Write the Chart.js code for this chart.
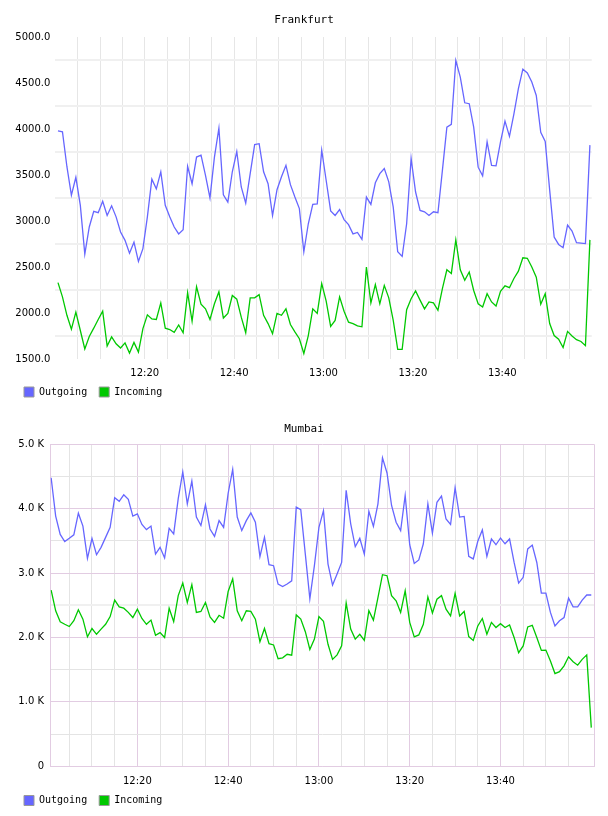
<!DOCTYPE html>
<html>
<head>
<meta charset="utf-8">
<title>Traffic</title>
<script src="https://cdn.jsdelivr.net/npm/chart.js@4.4.1/dist/chart.umd.min.js"></script>
<style>
  body { margin: 0; background: #fff; }
  canvas { position: absolute; left: 0; }
  #frankfurt { top: 0; }
  #mumbai { top: 408px; }
</style>
</head>
<body>
<canvas id="frankfurt" width="608" height="408"></canvas>
<canvas id="mumbai" width="608" height="408"></canvas>
<script>
// one sample per minute, minutes after 12:00
const frankfurtOut = [3980,3970,3590,3280,3475,3170,2640,2935,3105,3090,3215,3060,3165,3045,2880,2790,2650,2770,2560,2700,3045,3455,3350,3535,3170,3045,2935,2860,2905,3595,3405,3695,3715,3495,3250,3695,4010,3285,3205,3535,3755,3370,3195,3515,3830,3840,3535,3405,3060,3340,3480,3605,3395,3260,3135,2665,2970,3180,3185,3770,3440,
  3110,3060,3125,3015,2960,2860,2875,2800,3260,3180,3415,3515,3570,3425,3150,2665,2615,2970,3680,3315,3115,3100,3060,3100,3090,3550,4020,4050,4745,4565,4285,4275,4020,3585,3490,3860,3605,3600,3860,4085,3920,4165,4440,4650,4610,4510,4365,3965,3865,3335,2825,2745,2710,2955,2890,2765,2760,2755,3825];
const frankfurtIn = [2330,2175,1975,1825,2010,1810,1610,1745,1835,1930,2020,1640,1740,1665,1620,1675,1565,1680,1575,1830,1980,1935,1930,2110,1835,1820,1790,1870,1785,2220,1910,2285,2095,2045,1930,2100,2230,1945,1995,2190,2150,1955,1785,2165,2165,2200,1975,1885,1775,1995,1975,2045,1875,1795,1720,1560,1755,2045,1995,2320,2130,
  1855,1920,2175,2020,1900,1885,1860,1850,2500,2110,2310,2100,2300,2165,1920,1605,1605,2035,2155,2240,2140,2045,2120,2110,2030,2265,2470,2430,2795,2470,2355,2445,2245,2100,2065,2210,2120,2075,2235,2295,2275,2375,2455,2600,2595,2500,2390,2095,2210,1885,1755,1715,1625,1800,1750,1710,1690,1645,2795];
const mumbaiOut = [4480,3885,3600,3490,3540,3595,3930,3730,3230,3540,3285,3400,3555,3710,4170,4115,4215,4145,3885,3920,3755,3675,3730,3295,3400,3235,3695,3610,4155,4570,4075,4430,3870,3740,4060,3685,3570,3815,3710,4240,4610,3870,3660,3815,3935,3790,3255,3555,3130,3115,2830,2790,2830,2880,4025,3985,3295,2600,3115,3710,
  3970,3140,2815,2985,3165,4285,3765,3410,3540,3295,3960,3725,4075,4790,4555,4050,3790,3660,4205,3440,3150,3205,3455,4075,3620,4100,4195,3840,3755,4325,3870,3880,3260,3220,3495,3670,3260,3530,3440,3545,3455,3530,3165,2845,2935,3375,3435,3165,2690,2690,2390,2180,2260,2310,2610,2475,2475,2580,2660,2660];
const mumbaiIn = [2735,2415,2245,2205,2170,2260,2430,2285,2010,2140,2050,2130,2205,2325,2580,2475,2455,2390,2310,2440,2295,2205,2270,2035,2075,2000,2455,2245,2650,2845,2545,2820,2390,2405,2545,2320,2235,2345,2300,2715,2910,2415,2260,2415,2405,2285,1935,2140,1905,1885,1670,1685,1740,1725,2350,2285,2090,1815,1975,2325,
  2250,1895,1660,1730,1870,2535,2130,1975,2050,1955,2415,2270,2620,2975,2960,2650,2570,2390,2725,2235,2010,2040,2205,2630,2380,2595,2650,2440,2335,2685,2335,2405,2015,1955,2180,2295,2050,2235,2155,2215,2155,2195,2000,1765,1870,2165,2190,2000,1800,1805,1635,1440,1470,1560,1700,1625,1570,1660,1730,600];

const timeTickMinutes = [20, 40, 60, 80, 100];
const timeTickLabels = ['12:20', '12:40', '13:00', '13:20', '13:40'];
const seriesNames = ['Outgoing', 'Incoming'];
const seriesColors = ['#6666ff', '#00c800'];

const every = (from, to, step) => { const a = []; for (let v = from; v <= to + 1e-9; v += step) a.push(v); return a; };
const toPoints = (vals, start) => vals.map((v, i) => ({ x: start + i, y: v }));
const xLabel = v => { const k = timeTickMinutes.indexOf(v); return k < 0 ? '' : timeTickLabels[k]; };

// nudge the legend right and centre the title on the canvas, without moving the axes
const boxNudge = {
  id: 'boxNudge',
  afterLayout: c => {
    c.legend.left += 9; c.legend.right += 9;
    c.titleBlock.left = 0; c.titleBlock.right = c.width;
  }
};

function makeChart(id, cfg) {
  return new Chart(document.getElementById(id), {
    type: 'line',
    data: {
      datasets: [cfg.out, cfg.inc].map((vals, i) => ({
        label: seriesNames[i],
        data: toPoints(vals, cfg.start),
        borderColor: seriesColors[i],
        backgroundColor: seriesColors[i],
        borderWidth: 1.3,
        pointRadius: 0,
        tension: 0
      }))
    },
    plugins: [boxNudge],
    options: {
      responsive: false,
      animation: false,
      devicePixelRatio: 1,
      layout: { padding: cfg.padding },
      plugins: {
        title: {
          display: true, text: cfg.title, color: '#000',
          font: { family: 'DejaVu Sans Mono', size: 11, weight: 'normal' },
          padding: cfg.titlePad
        },
        legend: {
          position: 'bottom', align: 'start',
          labels: {
            boxWidth: 10, boxHeight: 10, padding: 6, color: '#000',
            font: { family: 'DejaVu Sans Mono', size: 10 },
            // trailing space widens the gap between the two entries
            generateLabels: chart => chart.data.datasets.map((d, i) => ({
              text: d.label + ' ', fillStyle: d.borderColor, strokeStyle: '#999',
              lineWidth: 1, hidden: false, datasetIndex: i, fontColor: '#000'
            }))
          }
        },
        tooltip: { enabled: false }
      },
      scales: {
        x: {
          type: 'linear', min: cfg.xMin, max: cfg.xMax,
          afterBuildTicks: s => { s.ticks = cfg.xTicks.map(v => ({ value: v })); },
          afterFit: s => { s.height = cfg.xHeight; },
          border: cfg.xBorder,
          grid: { drawTicks: false, color: cfg.xGridColor, lineWidth: 1 },
          ticks: {
            autoSkip: false, maxRotation: 0, padding: cfg.xPad, color: '#000',
            font: { family: 'DejaVu Sans', size: 10 },
            callback: v => xLabel(v)
          }
        },
        y: {
          min: cfg.yMin, max: cfg.yMax,
          afterBuildTicks: s => { s.ticks = cfg.yTicks.map(v => ({ value: v })); },
          afterFit: s => { s.width = cfg.yWidth; },
          border: cfg.yBorder,
          grid: { drawTicks: false, color: cfg.yGridColor, lineWidth: cfg.yGridWidth },
          ticks: {
            padding: cfg.yPad, color: '#000',
            font: { family: 'DejaVu Sans', size: 10 },
            callback: cfg.yLabel
          }
        }
      }
    }
  });
}

makeChart('frankfurt', {
  title: 'Frankfurt', out: frankfurtOut, inc: frankfurtIn, start: 0.6,
  padding: { left: 9, right: 16.3, top: 0, bottom: 1 },
  titlePad: { top: 14, bottom: 9.8 },
  xMin: 0, xMax: 120, xTicks: every(5, 115, 5), xHeight: 22, xPad: 8,
  xBorder: { display: false },
  xGridColor: '#e6e6e6',
  yMin: 1500, yMax: 5000, yTicks: every(1500, 5000, 250), yWidth: 46.3, yPad: 5,
  yBorder: { display: false },
  yGridColor: c => (c.tick.value % 500 === 250 ? '#f0f0f0' : 'rgba(0,0,0,0)'),
  yGridWidth: 2,
  yLabel: v => (v % 500 === 0 ? v.toFixed(1) : '')
});

const pink = '#e2cce2';
makeChart('mumbai', {
  title: 'Mumbai', out: mumbaiOut, inc: mumbaiIn, start: 1,
  padding: { left: 9, right: 14, top: 0, bottom: 0.5 },
  titlePad: { top: 14.9, bottom: 8.2 },
  xMin: 0.86, xMax: 120.6, xTicks: every(5, 115, 5).concat([120.6]), xHeight: 23.2, xPad: 9.5,
  xBorder: { display: true, color: pink, width: 1 },
  xGridColor: c => (c.tick.value % 20 === 0 || c.tick.value > 120 ? pink : '#e4e4e4'),
  yMin: 0, yMax: 5000, yTicks: every(0, 5000, 500), yWidth: 41.5, yPad: 6.5,
  yBorder: { display: true, color: pink, width: 1 },
  yGridColor: c => (c.tick.value === 2500 ? '#f0f0f0' : c.tick.value % 1000 === 0 ? pink : '#e4e4e4'),
  yGridWidth: c => (c.tick.value === 2500 ? 2 : 1),
  yLabel: v => (v === 0 ? '0' : v % 1000 === 0 ? (v / 1000).toFixed(1) + ' K' : '')
});
</script>
</body>
</html>
